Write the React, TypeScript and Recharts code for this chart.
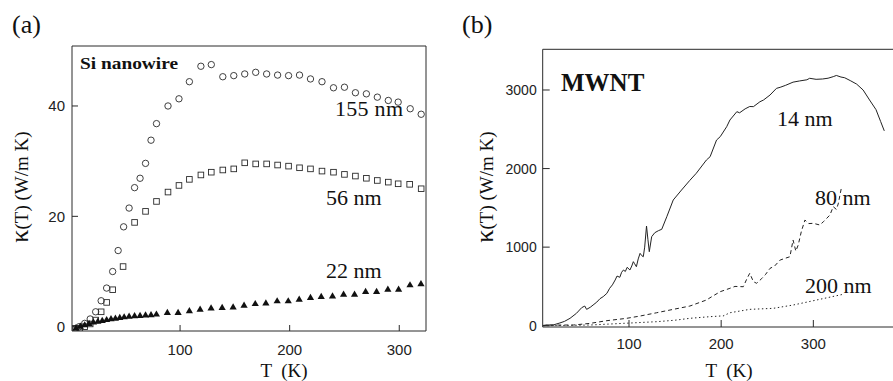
import React from 'react'
import { ComposedChart, LineChart, Scatter, Line, XAxis, YAxis } from 'recharts'

// panel (a): Si nanowire
const t155 = [5, 8, 13, 18, 23, 28, 33, 38.5, 43.5, 48.5, 53.5, 58.5, 63.5, 68.5, 73.5, 78.5, 89, 99, 108.5, 119, 128.5, 139, 149, 159, 169, 179, 189, 199, 209, 219, 229.5, 240, 250, 260, 270, 280, 290, 299, 310, 320]
const k155 = [-0.3, 0, 0.6, 1.4, 2.7, 4.7, 7.0, 10.0, 13.8, 18.1, 21.5, 25.2, 26.9, 29.6, 33.8, 36.8, 40.0, 41.3, 44.4, 47.2, 47.5, 45.3, 45.5, 45.8, 46.1, 45.8, 45.6, 45.5, 45.6, 44.9, 44.4, 43.3, 43.4, 42.4, 42.2, 41.6, 41.0, 40.7, 39.5, 38.5]

const t56 = [4, 8.5, 13, 18, 23, 28, 33, 38.5, 48, 58.5, 68.5, 78.5, 89, 99, 108.5, 119, 128.5, 139, 149, 159, 169, 179, 189, 199, 209, 219, 229.5, 240, 250, 260, 270, 280, 290, 299, 309.5, 320]
const k56 = [-0.3, -0.3, 0, 0.5, 1.2, 2.7, 4.4, 6.7, 10.9, 18.9, 20.9, 22.7, 24.4, 25.6, 26.7, 27.5, 28.0, 28.4, 28.6, 29.7, 29.5, 29.5, 29.3, 29.1, 28.8, 28.6, 28.2, 28.0, 27.6, 27.3, 26.9, 26.5, 26.2, 25.9, 25.8, 25.0]

const t22 = [5, 9, 13, 17, 21, 25, 29, 33, 37, 41, 45, 49, 53.5, 58.5, 63.5, 68.5, 73.5, 78.4, 88.4, 98.2, 108.5, 118.3, 128.3, 138.4, 148.4, 158.4, 168.6, 178.3, 188.6, 198.7, 208.7, 219, 228.8, 239.1, 249.2, 259.2, 269.3, 279.3, 289.6, 299.4, 309.8, 319.8]
const k22 = [-0.2, 0.1, 0.35, 0.6, 0.85, 1.0, 1.15, 1.3, 1.45, 1.55, 1.7, 1.8, 1.9, 2.0, 2.05, 2.15, 2.2, 2.3, 2.6, 2.6, 2.9, 3.2, 3.4, 3.5, 3.6, 3.9, 4.2, 4.3, 4.7, 4.7, 5.0, 5.3, 5.5, 5.6, 5.9, 5.9, 6.4, 6.4, 6.8, 6.8, 7.6, 7.8]

const ticksA_x = [100, 200, 300]
const ticksA_y = [0, 20, 40]

// panel (b): MWNT
const t14 = [7, 11, 18, 25, 30, 36, 43, 48.7, 52, 54, 58, 61, 65, 68.5, 72, 76, 79, 82, 85, 87, 90, 92, 94, 96, 98, 101, 103, 104.7, 106, 108, 110, 112, 114, 115.5, 117, 119, 120.5, 122, 124.6, 128, 132, 135.5, 141, 148, 157, 166, 173, 184, 188, 195, 199, 206, 209.5, 217, 220, 226, 231, 235, 242, 246, 253, 260, 264, 270, 278, 285, 293, 296, 303, 310, 316, 321.6, 325, 330, 334, 340, 347, 354, 361, 368, 373, 377]
const k14 = [0, 9, 10, 35, 55, 94, 158, 230, 250, 208, 235, 263, 300, 344, 370, 412, 476, 520, 582, 632, 616, 680, 709, 690, 743, 709, 760, 815, 790, 751, 850, 921, 890, 878, 1000, 1269, 1100, 942, 1133, 1184, 1210, 1227, 1387, 1600, 1727, 1850, 1940, 2109, 2151, 2363, 2406, 2533, 2618, 2724, 2710, 2760, 2790, 2788, 2850, 2873, 2936, 3021, 3034, 3060, 3100, 3115, 3130, 3149, 3136, 3140, 3150, 3170, 3185, 3165, 3156, 3120, 3075, 3000, 2873, 2750, 2600, 2480]

const t80 = [7, 20, 40, 58, 76, 97.5, 112, 130, 148, 166, 184, 191, 199, 209.5, 215, 224, 228, 231, 235, 238.5, 244, 248, 253, 258, 264, 270, 274.6, 278, 281, 283.6, 287, 290.9, 295, 300, 307, 311, 318, 321.6, 325, 327, 330.7]
const k80 = [5, 8, 9, 30, 64, 94, 123, 165, 208, 250, 327, 378, 433, 476, 500, 496, 600, 667, 560, 540, 600, 650, 730, 760, 836, 860, 878, 1091, 950, 1027, 1200, 1345, 1300, 1303, 1282, 1324, 1409, 1515, 1480, 1550, 1770]

const t200 = [7, 30, 58, 94, 130, 150, 166, 188, 199, 202, 209.5, 231, 256.5, 278, 303.6, 332.4]
const k200 = [0, 3, 9, 30, 51, 70, 94, 115, 123, 123, 165, 208, 221, 263, 327, 400]

const ticksB_x = [100, 200, 300]
const ticksB_y = [0, 1000, 2000, 3000]

const pts = (t: number[], k: number[]) => t.map((T, i) => ({ T, k: k[i] }))

const INK = '#2a2a2a'
const SANS = '"Liberation Sans", Arial, sans-serif'
const SERIF = '"Liberation Serif", "Times New Roman", serif'
const tickFont = { fontSize: 15, fill: '#222', fontFamily: SANS }

const circle = (p: any) => <circle cx={p.cx} cy={p.cy} r={3.2} fill="none" stroke={INK} strokeWidth={0.9} />
const square = (p: any) => <rect x={p.cx - 2.8} y={p.cy - 2.8} width={5.6} height={5.6} fill="none" stroke={INK} strokeWidth={0.9} />
const triangle = (p: any) => (
  <polygon points={`${p.cx},${p.cy - 3.6} ${p.cx + 3.6},${p.cy + 2.6} ${p.cx - 3.6},${p.cy + 2.6}`} fill="#111" />
)

function PanelA() {
  const xDomain: [number, number] = [1.4, 324.4]
  const yDomain: [number, number] = [-0.78, 50.87]
  return (
    <ComposedChart width={440} height={381} margin={{ top: 45, right: 13, bottom: 20, left: 0 }}>
      <XAxis xAxisId="b" type="number" dataKey="T" domain={xDomain} ticks={ticksA_x} allowDataOverflow
        height={30} tickSize={-6} tickMargin={19} stroke={INK} tick={tickFont} />
      <XAxis xAxisId="t" type="number" orientation="top" domain={xDomain} ticks={ticksA_x} allowDataOverflow
        height={1} tickSize={-6} tick={false} stroke={INK} />
      <YAxis yAxisId="l" type="number" dataKey="k" domain={yDomain} ticks={ticksA_y} allowDataOverflow
        width={72} tickSize={-6} tickMargin={13} stroke={INK} tick={tickFont} />
      <YAxis yAxisId="r" type="number" orientation="right" domain={yDomain} ticks={ticksA_y} allowDataOverflow
        width={1} tickSize={-6} tick={false} stroke={INK} />
      <Scatter xAxisId="b" yAxisId="l" data={pts(t155, k155)} shape={circle} isAnimationActive={false} />
      <Scatter xAxisId="b" yAxisId="l" data={pts(t56, k56)} shape={square} isAnimationActive={false} />
      <Scatter xAxisId="b" yAxisId="l" data={pts(t22, k22)} shape={triangle} isAnimationActive={false} />
    </ComposedChart>
  )
}

function PanelB() {
  const xDomain: [number, number] = [6.35, 389.7]
  const yDomain: [number, number] = [-16.5, 3518]
  return (
    <LineChart width={450} height={381} margin={{ top: 48.3, right: 3, bottom: 24, left: 0 }}>
      <XAxis xAxisId="b" type="number" dataKey="T" domain={xDomain} ticks={ticksB_x} allowDataOverflow
        height={30} tickSize={-7} tickMargin={18} stroke={INK} tick={tickFont} />
      <XAxis xAxisId="t" type="number" orientation="top" domain={xDomain} ticks={ticksB_x} allowDataOverflow
        height={1} tickSize={-6} tick={false} stroke={INK} />
      <YAxis yAxisId="l" type="number" domain={yDomain} ticks={ticksB_y} allowDataOverflow
        width={92.7} tickSize={-7} tickMargin={13} stroke={INK} tick={{ ...tickFont, fontSize: 14 }} />
      <YAxis yAxisId="r" type="number" orientation="right" domain={yDomain} ticks={ticksB_y} allowDataOverflow
        width={1} tickSize={-6} tick={false} stroke={INK} />
      <Line xAxisId="b" yAxisId="l" data={pts(t14, k14)} dataKey="k" stroke="#222" strokeWidth={1}
        dot={false} isAnimationActive={false} />
      <Line xAxisId="b" yAxisId="l" data={pts(t80, k80)} dataKey="k" stroke="#222" strokeWidth={1}
        strokeDasharray="4 3" dot={false} isAnimationActive={false} />
      <Line xAxisId="b" yAxisId="l" data={pts(t200, k200)} dataKey="k" stroke="#222" strokeWidth={1}
        strokeDasharray="1.4 2.6" dot={false} isAnimationActive={false} />
    </LineChart>
  )
}

export default function App() {
  return (
    <div style={{ position: 'fixed', left: 0, top: 0, width: 893, height: 381, overflow: 'hidden', background: '#fff' }}>
      <div style={{ position: 'absolute', left: 0, top: 0 }}>
        <PanelA />
      </div>
      <div style={{ position: 'absolute', left: 450, top: 0 }}>
        <PanelB />
      </div>
      <svg width={893} height={381} style={{ position: 'absolute', left: 0, top: 0, pointerEvents: 'none' }}
        fontFamily={SERIF} fill="#111">
        <text x={12} y={33} fontSize={26}>(a)</text>
        <text x={462} y={33} fontSize={26}>(b)</text>

        <text x={80} y={69} fontSize={17} fontWeight="bold" textLength={98} lengthAdjust="spacingAndGlyphs">Si nanowire</text>
        <text x={335} y={116} fontSize={22} textLength={68} lengthAdjust="spacing">155 nm</text>
        <text x={326} y={205} fontSize={22}>56 nm</text>
        <text x={326} y={278} fontSize={22}>22 nm</text>

        <text x={561} y={90.5} fontSize={25} fontWeight="bold">MWNT</text>
        <text x={777} y={126} fontSize={22}>14 nm</text>
        <text x={815} y={205} fontSize={22}>80 nm</text>
        <text x={805} y={293} fontSize={22}>200 nm</text>

        <text transform="translate(28,187) rotate(-90)" textAnchor="middle" fontSize={19}>
          <tspan fontSize={26}>κ</tspan>(T) (W/m K)
        </text>
        <text transform="translate(493,187) rotate(-90)" textAnchor="middle" fontSize={19}>
          <tspan fontSize={26}>κ</tspan>(T) (W/m K)
        </text>
        <text x={284} y={377} textAnchor="middle" fontSize={19} style={{ whiteSpace: 'pre' }}>T  (K)</text>
        <text x={729} y={377} textAnchor="middle" fontSize={19} style={{ whiteSpace: 'pre' }}>T  (K)</text>
      </svg>
    </div>
  )
}
